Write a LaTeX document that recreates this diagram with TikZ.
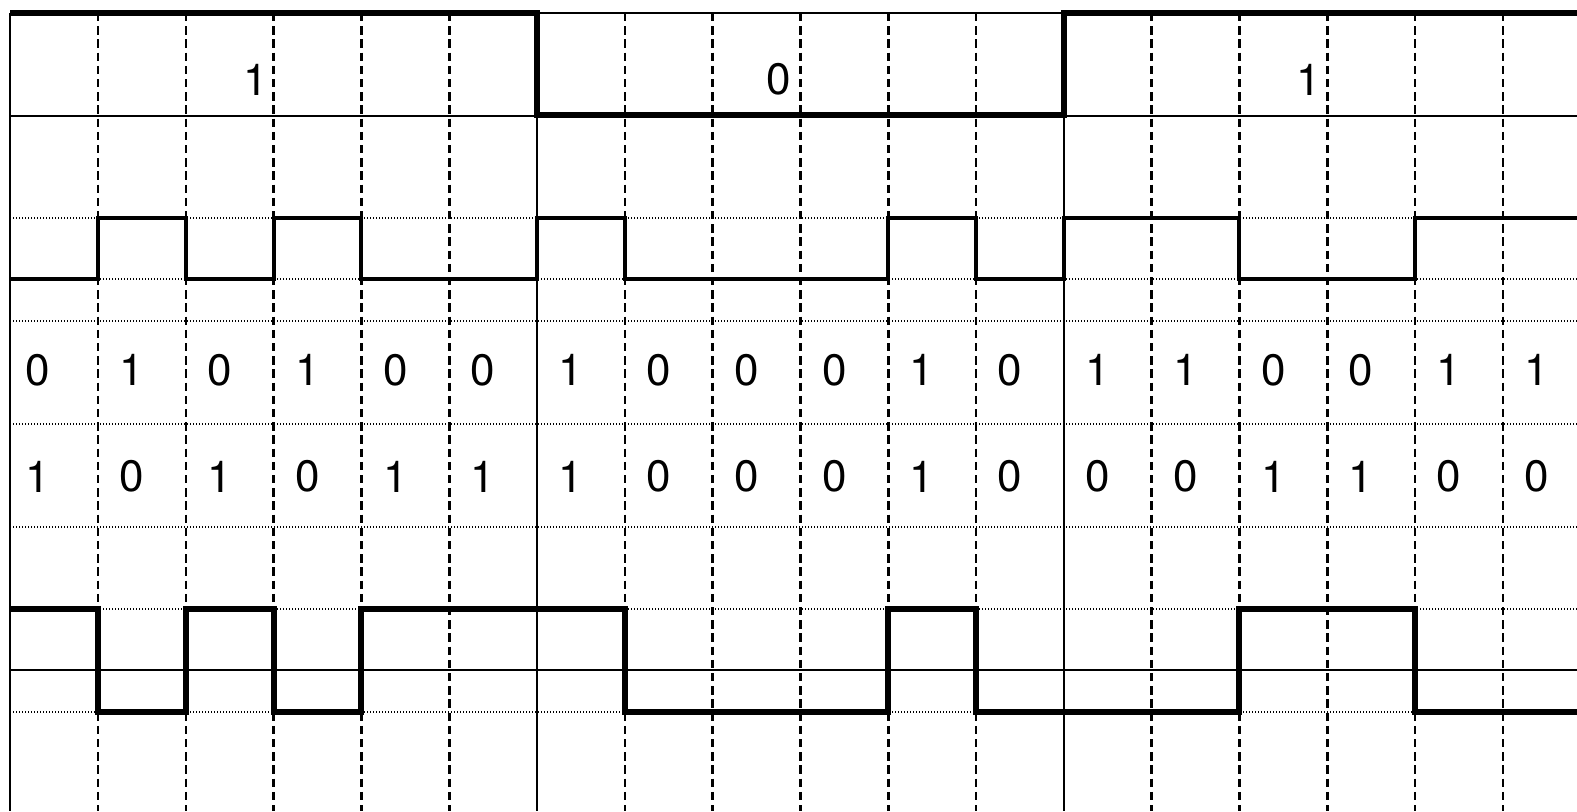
\documentclass[tikz,border=0pt]{standalone}
\usepackage{fontspec}
\setmainfont{TeX Gyre Heros}
\begin{document}
\begin{tikzpicture}[x=0.5pt,y=-0.5pt,
  thinline/.style={line width=0.75pt},
  dashline/.style={line width=1.3pt, dash pattern=on 4.2pt off 2.4pt},
  dotline/.style={line width=0.75pt, dash pattern=on 0.5pt off 1pt},
  sigthick/.style={line width=3pt, line join=miter},
  sigmid/.style={line width=2pt, line join=miter},
  digit/.style={font=\fontsize{22}{24}\selectfont, inner sep=0pt}]
\useasboundingbox (0,0) rectangle (1577,811);
\clip (0,0) rectangle (1577,811);
\def\xa{10.2}\def\cw{87.8}
% dashed column lines
\foreach \i in {1,2,3,4,5,7,8,9,10,11,13,14,15,16,17}
  \draw[dashline] ({\xa+\cw*\i},13) -- ({\xa+\cw*\i},811);
% solid column lines
\foreach \i in {0,6,12}
  \draw[thinline] ({\xa+\cw*\i},13) -- ({\xa+\cw*\i},811);
% horizontal lines
\foreach \y in {218,279,321,424,527,609,712}
  \draw[dotline] (\xa,\y) -- (1600,\y);
\foreach \y in {13,116,670}
  \draw[thinline] (\xa,\y) -- (1600,\y);
% top data signal
\draw[sigthick] (\xa,13) -| ({\xa+\cw*6},115) -| ({\xa+\cw*12},13) -- (1600,13);
% chip sequence signal
\draw[sigmid] (\xa,279) -| ({\xa+\cw*1},218) -| ({\xa+\cw*2},279) -| ({\xa+\cw*3},218)
  -| ({\xa+\cw*4},279) -| ({\xa+\cw*6},218) -| ({\xa+\cw*7},279) -| ({\xa+\cw*10},218)
  -| ({\xa+\cw*11},279) -| ({\xa+\cw*12},218) -| ({\xa+\cw*14},279) -| ({\xa+\cw*16},218)
  -- (1600,218);
% result signal
\draw[sigthick] (\xa,609) -| ({\xa+\cw*1},712) -| ({\xa+\cw*2},609) -| ({\xa+\cw*3},712)
  -| ({\xa+\cw*4},609) -| ({\xa+\cw*7},712) -| ({\xa+\cw*10},609) -| ({\xa+\cw*11},712)
  -| ({\xa+\cw*14},609) -| ({\xa+\cw*16},712) -- (1600,712);
% data bits
\node[digit] (d1) at (256,79.5) {1};
\node[digit] (d2) at (779,79.5) {0};
\node[digit] (d3) at (1309,79.5) {1};
% chip row
\foreach \b [count=\i from 0] in {0,1,0,1,0,0,1,0,0,0,1,0,1,1,0,0,1,1}{
  \pgfmathsetmacro{\px}{\xa+\cw*(\i+0.5)-10-ifthenelse(\i==0,6,0)}
  \node[digit] (c\i) at (\px,370) {\b};
}
% result row
\foreach \b [count=\i from 0] in {1,0,1,0,1,1,1,0,0,0,1,0,0,0,1,1,0,0}{
  \pgfmathsetmacro{\px}{\xa+\cw*(\i+0.5)-10-ifthenelse(\i==0,6,0)}
  \node[digit] (r\i) at (\px,476.5) {\b};
}
\end{tikzpicture}
\end{document}
